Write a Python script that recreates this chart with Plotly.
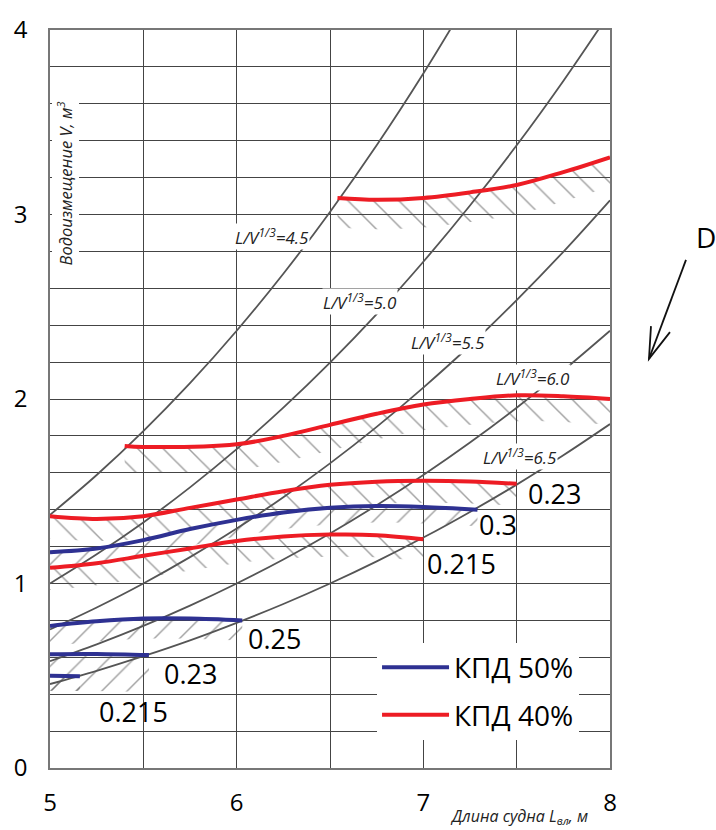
import plotly.graph_objects as go

# ---------------- data ----------------
# L/V^(1/3) = const lines: displacement V (m3) at ship length L (m)
L_grid = [5.0, 5.25, 5.5, 5.75, 6.0, 6.25, 6.5, 6.75, 7.0, 7.25, 7.5, 7.75, 8.0]
ratio_labels = ["4.5", "5.0", "5.5", "6.0", "6.5"]
V_k45 = [1.372, 1.588, 1.826, 2.086, 2.370, 2.679, 3.014, 3.375, 3.764, 4.182, None, None, None]
V_k50 = [1.000, 1.158, 1.331, 1.521, 1.728, 1.953, 2.197, 2.460, 2.744, 3.049, 3.375, 3.724, 4.096]
V_k55 = [0.751, 0.870, 1.000, 1.143, 1.298, 1.468, 1.651, 1.849, 2.062, 2.290, 2.536, 2.798, 3.077]
V_k60 = [0.579, 0.670, 0.770, 0.880, 1.000, 1.130, 1.271, 1.424, 1.588, 1.764, 1.953, 2.155, 2.370]
V_k65 = [0.455, 0.527, 0.606, 0.692, 0.787, 0.889, 1.000, 1.120, 1.249, 1.388, 1.536, 1.695, 1.864]
ratio_V = [V_k45, V_k50, V_k55, V_k60, V_k65]
ratio_label_x = [6.19, 6.66, 7.13, 7.59, 7.52]
ratio_label_y = [2.88, 2.53, 2.31, 2.115, 1.686]

# КПД 40% (red) curves, labelled by value
red_030_x = [6.54, 6.75, 7.0, 7.25, 7.5, 7.75, 8.0]
red_030_y = [3.09, 3.08, 3.09, 3.12, 3.16, 3.23, 3.31]
red_025_x = [5.4, 5.5, 6.0, 6.25, 6.5, 6.75, 7.0, 7.25, 7.5, 7.75, 8.0]
red_025_y = [1.745, 1.74, 1.755, 1.80, 1.86, 1.92, 1.97, 2.0, 2.02, 2.015, 2.0]
red_023_x = [5.0, 5.25, 5.5, 5.75, 6.0, 6.25, 6.5, 6.75, 7.0, 7.25, 7.5]
red_023_y = [1.365, 1.35, 1.365, 1.41, 1.455, 1.50, 1.535, 1.552, 1.557, 1.553, 1.54]
red_0215_x = [5.0, 5.25, 5.5, 5.75, 6.0, 6.25, 6.5, 6.75, 7.0]
red_0215_y = [1.085, 1.11, 1.15, 1.19, 1.23, 1.255, 1.265, 1.262, 1.24]

# КПД 50% (blue) curves
blue_030_x = [5.0, 5.25, 5.5, 5.75, 6.0, 6.25, 6.5, 6.75, 7.0, 7.29]
blue_030_y = [1.17, 1.19, 1.235, 1.295, 1.345, 1.385, 1.41, 1.42, 1.415, 1.40]
blue_025_x = [5.0, 5.25, 5.5, 5.75, 6.03]
blue_025_y = [0.77, 0.795, 0.81, 0.81, 0.80]
blue_023_x = [5.0, 5.25, 5.53]
blue_023_y = [0.617, 0.618, 0.612]
blue_0215_x = [5.0, 5.16]
blue_0215_y = [0.50, 0.497]

red_labels = ["0.3", "0.25", "0.23", "0.215"]
red_label_x = [8.15, 8.19, 7.705, 7.207]
red_label_y = [3.313, 1.997, 1.487, 1.106]
blue_labels = ["0.3", "0.25", "0.23", "0.215"]
blue_label_x = [7.40, 6.205, 5.755, 5.445]
blue_label_y = [1.321, 0.703, 0.510, 0.306]

x_ticks = [5, 6, 7, 8]
y_ticks = [0, 1, 2, 3, 4]

# ---------------- styles ----------------
RED = "#ED1C24"
BLUE = "#2E3192"
GRAY = "#555555"
FONT = "Open Sans"

red_curves = [(red_030_x, red_030_y, 0.16), (red_025_x, red_025_y, 0.14),
              (red_023_x, red_023_y, 0.12), (red_0215_x, red_0215_y, 0.12)]
blue_curves = [(blue_030_x, blue_030_y, 0.09), (blue_025_x, blue_025_y, 0.11),
               (blue_023_x, blue_023_y, 0.20), (blue_0215_x, blue_0215_y, 0.08)]

fig = go.Figure()


def add_band(x, y, width, shape):
    lower = [v - width for v in y]
    fig.add_trace(go.Scatter(x=x, y=y, mode="lines", line=dict(width=0, shape="spline"),
                             showlegend=False, hoverinfo="skip"))
    fig.add_trace(go.Scatter(x=x, y=lower, mode="lines", line=dict(width=0, shape="spline"),
                             fill="tonexty", fillcolor="rgba(0,0,0,0)",
                             fillpattern=dict(shape=shape, fgcolor="#444444",
                                              bgcolor="rgba(0,0,0,0)", size=18, solidity=0.08),
                             showlegend=False, hoverinfo="skip"))


for x, y, w in red_curves:
    add_band(x, y, w, "\\")
for x, y, w in blue_curves:
    add_band(x, y, w, "/")

for V in ratio_V:
    fig.add_trace(go.Scatter(x=L_grid, y=V, mode="lines", line=dict(color=GRAY, width=1.8, shape="spline"),
                             showlegend=False, hoverinfo="skip"))

for i, (x, y, w) in enumerate(blue_curves):
    fig.add_trace(go.Scatter(x=x, y=y, mode="lines", line=dict(color=BLUE, width=4, shape="spline"),
                             name="КПД 50%", legendgroup="b", showlegend=(i == 0)))
for i, (x, y, w) in enumerate(red_curves):
    fig.add_trace(go.Scatter(x=x, y=y, mode="lines", line=dict(color=RED, width=4, shape="spline"),
                             name="КПД 40%", legendgroup="r", showlegend=(i == 0)))

annotations = []
for lab, x, y in zip(ratio_labels, ratio_label_x, ratio_label_y):
    annotations.append(dict(x=x, y=y, xref="x", yref="y", text="<i>L/V<sup>1/3</sup>=" + lab + "</i>",
                            showarrow=False, bgcolor="white", borderpad=0,
                            font=dict(family=FONT, size=17, color="#222")))
for labs, xs, ys in [(red_labels, red_label_x, red_label_y), (blue_labels, blue_label_x, blue_label_y)]:
    for lab, x, y in zip(labs, xs, ys):
        annotations.append(dict(x=x, y=y, xref="x", yref="y", text=lab, showarrow=False,
                                font=dict(family=FONT, size=27, color="black")))

annotations.append(dict(x=0.0268, y=0.792, xref="paper", yref="paper", textangle=-90,
                        xanchor="center", yanchor="middle",
                        text="<i>Водоизмещение V, м<sup>3</sup></i>", showarrow=False,
                        bgcolor="white", borderpad=1, font=dict(family=FONT, size=16.5, color="#222")))
annotations.append(dict(x=0.8375, y=-0.0658, xref="paper", yref="paper", xanchor="center", yanchor="middle",
                        text="<i>Длина судна L<sub>вл</sub>, м</i>", showarrow=False,
                        font=dict(family=FONT, size=16, color="#222")))
annotations.append(dict(x=1.1714, y=0.7195, xref="paper", yref="paper", xanchor="center", yanchor="middle",
                        text="D", showarrow=False, font=dict(family=FONT, size=28, color="black")))

shapes = [
    dict(type="path", xref="paper", yref="paper", path="M 1.1357 0.6886 L 1.0696 0.5544",
         line=dict(color="#111", width=1.8)),
    dict(type="path", xref="paper", yref="paper", path="M 1.0732 0.5987 L 1.0696 0.5544 L 1.1071 0.5906",
         line=dict(color="#111", width=1.8)),
]

axis_common = dict(showline=True, linecolor="#777", linewidth=1.5, mirror=True,
                   showgrid=True, gridcolor="#444", gridwidth=1.2, zeroline=False,
                   ticks="outside", tickcolor="rgba(0,0,0,0)",
                   tickfont=dict(family=FONT, size=24, color="black"))

fig.update_layout(
    width=716, height=830,
    margin=dict(l=50, r=106, t=29, b=56),
    paper_bgcolor="white", plot_bgcolor="white",
    xaxis=dict(range=[5, 8], tickvals=x_ticks, ticklen=12,
               minor=dict(dtick=0.5, showgrid=True, gridcolor="#444", gridwidth=1.2), **axis_common),
    yaxis=dict(range=[0, 4], tickvals=y_ticks, ticklen=16,
               minor=dict(dtick=0.2, showgrid=True, gridcolor="#444", gridwidth=1.2), **axis_common),
    legend=dict(x=0.584, y=0.170, xanchor="left", yanchor="top", bgcolor="white",
                font=dict(family=FONT, size=28, color="black"), traceorder="grouped",
                tracegroupgap=8, itemwidth=67),
    annotations=annotations,
    shapes=shapes,
    showlegend=True,
)

fig.write_html("out.html", config={"displayModeBar": False},
               post_script="document.body.style.margin='0';document.body.style.overflow='hidden';")
